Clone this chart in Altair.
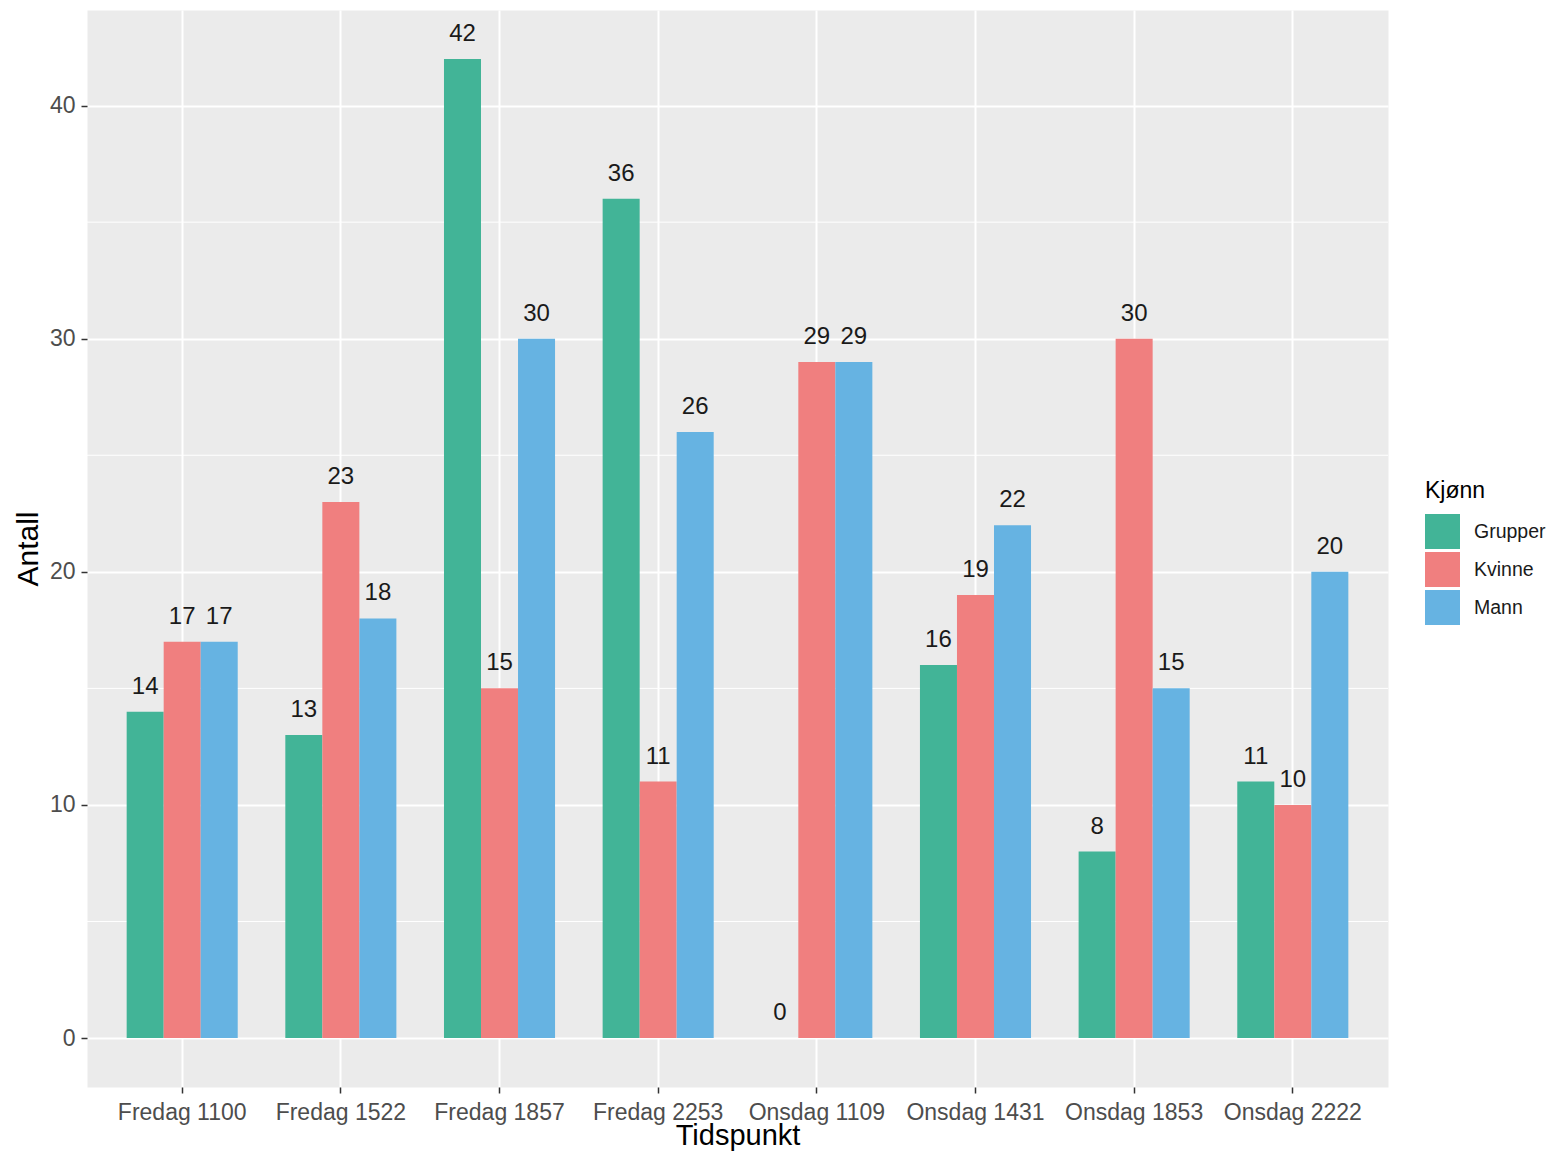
import altair as alt
import pandas as pd

categories = ["Fredag 1100", "Fredag 1522", "Fredag 1857", "Fredag 2253",
              "Onsdag 1109", "Onsdag 1431", "Onsdag 1853", "Onsdag 2222"]
groups = ["Grupper", "Kvinne", "Mann"]
grupper = [14, 13, 42, 36, 0, 16, 8, 11]
kvinne = [17, 23, 15, 11, 29, 19, 30, 10]
mann = [17, 18, 30, 26, 29, 22, 15, 20]
colors = ["#42B497", "#F07F7F", "#66B3E2"]
major_ticks = [0, 10, 20, 30, 40]
minor_ticks = [5, 15, 25, 35]

rows = []
for name, vals in zip(groups, [grupper, kvinne, mann]):
    for c, v in zip(categories, vals):
        rows.append({"Tidspunkt": c, "Kjønn": name, "Antall": v})
df = pd.DataFrame(rows)
minor_df = pd.DataFrame({"y": minor_ticks})

W, H = 1301, 1077
FONT = "Liberation Sans"

yscale = alt.Scale(domain=[-2.1, 44.1], nice=False, zero=False)
xscale = alt.Scale(domain=categories, paddingInner=0.3, paddingOuter=0.25)
offscale = alt.Scale(domain=groups, paddingInner=0, paddingOuter=0)

minor = alt.Chart(minor_df).mark_rule(color="white", strokeWidth=1).encode(
    y=alt.Y("y:Q", scale=yscale)
)

bars = alt.Chart(df).mark_bar().encode(
    x=alt.X("Tidspunkt:N", scale=xscale, sort=categories,
            axis=alt.Axis(title="Tidspunkt", labelAngle=0, bandPosition=0.5,
                          grid=True, gridColor="white", gridWidth=2,
                          tickSize=6, tickColor="#333333", tickWidth=1.5,
                          labelFontSize=23, labelColor="#4D4D4D", labelPadding=8,
                          titleFontSize=29, titleFontWeight="normal", titleColor="black",
                          titleBaseline="alphabetic", titleY=57, domain=False)),
    xOffset=alt.XOffset("Kjønn:N", scale=offscale, sort=groups),
    y=alt.Y("Antall:Q", scale=yscale,
            axis=alt.Axis(title="Antall", values=major_ticks, grid=True,
                          gridColor="white", gridWidth=2,
                          tickSize=6, tickColor="#333333", tickWidth=1.5,
                          labelFontSize=23, labelColor="#4D4D4D", labelPadding=6,
                          titleFontSize=30, titleFontWeight="normal", titleColor="black",
                          titleBaseline="middle", titleX=-59, domain=False)),
    y2=alt.datum(0),
    color=alt.Color("Kjønn:N", scale=alt.Scale(domain=groups, range=colors),
                    legend=alt.Legend(title="Kjønn", orient="none", legendX=1338, legendY=470,
                                      symbolType="square", symbolSize=1225,
                                      symbolStrokeWidth=0, rowPadding=3,
                                      labelFontSize=19.5, labelColor="#1A1A1A",
                                      labelOffset=14, labelLimit=200, titleFontSize=23,
                                      titleFontWeight="normal", titleColor="black",
                                      titlePadding=11)),
)

labels = alt.Chart(df).mark_text(fontSize=24, baseline="alphabetic", dy=-18,
                                 color="#1A1A1A", font=FONT).encode(
    x=alt.X("Tidspunkt:N", scale=xscale, sort=categories),
    xOffset=alt.XOffset("Kjønn:N", scale=offscale, sort=groups),
    y=alt.Y("Antall:Q", scale=yscale),
    text=alt.Text("Antall:Q"),
)

chart = alt.layer(minor, bars, labels).properties(
    width=W, height=H,
    autosize=alt.AutoSizeParams(type="none"),
    padding={"left": 79, "top": 2, "right": 160, "bottom": 65},
).configure(font=FONT).configure_view(fill="#EBEBEB", stroke="transparent")

chart.save("out.html", embed_options={"renderer": "svg", "actions": False})
